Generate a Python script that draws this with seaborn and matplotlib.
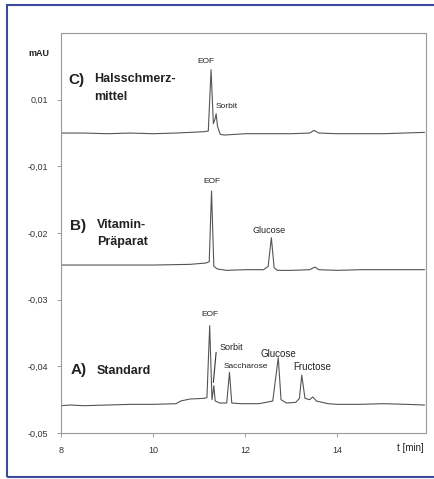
import matplotlib
matplotlib.use("Agg")
import matplotlib.pyplot as plt
import matplotlib.patches as mpatches
import seaborn as sns
import pandas as pd

sns.set_style("ticks")
plt.rcParams['font.family'] = ['Liberation Sans', 'DejaVu Sans']

# Trace C: Halsschmerzmittel
t_c = [8.0, 8.5, 9.0, 9.5, 10.0, 10.5, 10.8, 11.1, 11.2, 11.26, 11.31, 11.35, 11.37, 11.40,
       11.46, 11.55, 12.0, 12.5, 13.0, 13.4, 13.5, 13.6, 14.0, 14.5, 15.0, 15.9]
v_c = [-0.0050, -0.0050, -0.0051, -0.0050, -0.0051, -0.0050, -0.0049, -0.0048, -0.0047, 0.0045,
       -0.0036, -0.0028, -0.0021, -0.0040, -0.0052, -0.0053, -0.0051, -0.0051, -0.0051, -0.0050,
       -0.0046, -0.0050, -0.0051, -0.0051, -0.0051, -0.0049]

# Trace B: Vitamin-Präparat
t_b = [8.0, 9.0, 10.0, 10.8, 11.15, 11.22, 11.27, 11.32, 11.4, 11.6, 12.0, 12.4, 12.50, 12.57,
       12.63, 12.7, 13.0, 13.4, 13.52, 13.6, 14.0, 14.5, 15.0, 15.9]
v_b = [-0.0248, -0.0248, -0.0248, -0.0247, -0.0245, -0.0243, -0.0137, -0.0250, -0.0254, -0.0256,
       -0.0255, -0.0255, -0.0250, -0.0207, -0.0252, -0.0256, -0.0256, -0.0255, -0.0251, -0.0255,
       -0.0256, -0.0255, -0.0255, -0.0255]

# Trace A: Standard
t_a = [8.0, 8.2, 8.5, 9.0, 9.5, 10.0, 10.5, 10.6, 10.8, 11.1, 11.17, 11.23, 11.28, 11.30, 11.32,
       11.35, 11.45, 11.6, 11.66, 11.71, 11.9, 12.3, 12.6, 12.72, 12.78, 12.9, 13.1, 13.18, 13.23,
       13.3, 13.4, 13.47, 13.55, 13.8, 14.0, 14.5, 15.0, 15.5, 15.9]
v_a = [-0.0459, -0.0458, -0.0459, -0.0458, -0.0457, -0.0457, -0.0456, -0.0452, -0.0449, -0.0448,
       -0.0447, -0.0339, -0.0450, -0.0440, -0.0429, -0.0452, -0.0455, -0.0455, -0.0409, -0.0455,
       -0.0456, -0.0456, -0.0452, -0.0387, -0.0450, -0.0455, -0.0454, -0.0448, -0.0413, -0.0448,
       -0.0450, -0.0446, -0.0452, -0.0456, -0.0457, -0.0457, -0.0456, -0.0457, -0.0458]

x_ticks = [8, 10, 12, 14]
x_ticklabels = ['8', '10', '12', '14']
y_ticks = [0.0, -0.01, -0.02, -0.03, -0.04, -0.05]
y_ticklabels = ['0,01', '-0,01', '-0,02', '-0,03', '-0,04', '-0,05']

df = pd.concat([
    pd.DataFrame({'t': t_c, 'v': v_c, 'trace': 'C'}),
    pd.DataFrame({'t': t_b, 'v': v_b, 'trace': 'B'}),
    pd.DataFrame({'t': t_a, 'v': v_a, 'trace': 'A'}),
])

fig = plt.figure(figsize=(4.34, 4.79), dpi=100)
ax = fig.add_axes([0.1406, 0.096, 0.841, 0.835])

sns.lineplot(data=df, x='t', y='v', hue='trace', units='trace', estimator=None,
             palette={'A': '#555555', 'B': '#555555', 'C': '#555555'},
             linewidth=0.8, legend=False, ax=ax)

ax.set_xlim(8, 15.93)
ax.set_ylim(-0.05, 0.01)
ax.set_xticks(x_ticks)
ax.set_xticklabels(x_ticklabels)
ax.set_yticks(y_ticks)
ax.set_yticklabels(y_ticklabels)
ax.set_xlabel('')
ax.set_ylabel('')
ax.tick_params(labelsize=6.5, length=3, width=0.6, color='#888888', labelcolor='#333333', pad=6)
for s in ax.spines.values():
    s.set_color('#999999')
    s.set_linewidth(0.8)

# axis labels
fig.text(39 / 434, 1 - 53 / 479, 'mAU', fontsize=6.5, fontweight='bold', ha='center', va='center', color='#222222')
fig.text(410 / 434, 1 - 448 / 479, 't [min]', fontsize=7, ha='center', va='center', color='#222222')

# sample labels
bold = dict(fontweight='bold', color='#222222', va='center', ha='left')
ax.text(8.15, 0.0030, 'C)', fontsize=11, **bold)
ax.text(8.72, 0.0031, 'Halsschmerz-', fontsize=9, **bold)
ax.text(8.72, 0.0004, 'mittel', fontsize=9, **bold)
ax.text(8.2, -0.0190, 'B)', fontsize=11, **bold)
ax.text(8.78, -0.0188, 'Vitamin-', fontsize=9, **bold)
ax.text(8.78, -0.0213, 'Präparat', fontsize=9, **bold)
ax.text(8.2, -0.0406, 'A)', fontsize=11, **bold)
ax.text(8.78, -0.0407, 'Standard', fontsize=9, **bold)

# peak labels
pk = dict(color='#222222', va='center')
ax.text(11.15, 0.0057, 'EOF', fontsize=6, ha='center', **pk)
ax.text(11.36, -0.0010, 'Sorbit', fontsize=6, ha='left', **pk)
ax.text(11.27, -0.0122, 'EOF', fontsize=6, ha='center', **pk)
ax.text(12.53, -0.0196, 'Glucose', fontsize=6.5, ha='center', **pk)
ax.text(11.23, -0.0322, 'EOF', fontsize=6, ha='center', **pk)
ax.text(11.70, -0.0372, 'Sorbit', fontsize=6.5, ha='center', **pk)
ax.text(12.02, -0.0400, 'Saccharose', fontsize=6, ha='center', **pk)
ax.text(12.72, -0.0381, 'Glucose', fontsize=7, ha='center', **pk)
ax.text(13.46, -0.0401, 'Fructose', fontsize=7, ha='center', **pk)
ax.plot([11.37, 11.31], [-0.0379, -0.0424], color='#333333', lw=0.8)

# outer frame
fig.patches.append(mpatches.Rectangle((7 / 434, 2 / 479), 1.0, 1 - 7 / 479, transform=fig.transFigure,
                                      fill=False, edgecolor='#3d4a9c', linewidth=1.5))

fig.savefig('out.png', dpi=100)
